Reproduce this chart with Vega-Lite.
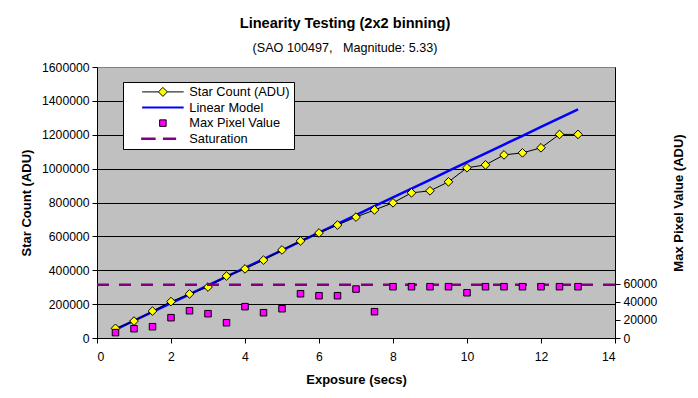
{
  "$schema": "https://vega.github.io/schema/vega-lite/v6.json",
  "width": 518,
  "height": 271,
  "autosize": {"type": "none"},
  "padding": {"left": 97, "top": 67, "right": 83, "bottom": 60},
  "background": "white",
  "title": {
    "text": "Linearity Testing (2x2 binning)",
    "subtitle": "(SAO 100497,\u00a0\u00a0 Magnitude: 5.33)",
    "anchor": "middle",
    "dx": -11,
    "offset": 6,
    "font": "Liberation Sans",
    "fontSize": 14.6,
    "fontWeight": "bold",
    "color": "black",
    "subtitleFont": "Liberation Sans",
    "subtitleFontSize": 12.6,
    "subtitleColor": "black",
    "subtitlePadding": 12
  },
  "config": {
    "view": {"fill": "#C0C0C0", "stroke": "#808080", "strokeWidth": 1},
    "axis": {
      "labelFont": "Liberation Sans",
      "labelFontSize": 12.2,
      "labelColor": "black",
      "labelOverlap": false,
      "titleFont": "Liberation Sans",
      "titleFontSize": 13,
      "titleFontWeight": "bold",
      "titleColor": "black",
      "domainColor": "black",
      "tickColor": "black",
      "tickSize": 5
    },
    "legend": {
      "orient": "none",
      "legendX": 26,
      "legendY": 15,
      "fillColor": "white",
      "strokeColor": "black",
      "padding": 3.5,
      "rowPadding": 1.6,
      "symbolOffset": 30,
      "labelOffset": 20,
      "symbolSize": 25,
      "labelFont": "Liberation Sans",
      "labelFontSize": 12.8,
      "labelColor": "black",
      "symbolOpacity": 1
    }
  },
  "data": {
    "values": [
      {"exposure": 0.5, "star": 57000, "model": 50000, "maxpix": 6000},
      {"exposure": 1, "star": 100000, "model": 102000, "maxpix": 10300},
      {"exposure": 1.5, "star": 159000, "model": 154000, "maxpix": 12500},
      {"exposure": 2, "star": 215000, "model": 206000, "maxpix": 22500},
      {"exposure": 2.5, "star": 260000, "model": 258000, "maxpix": 30200},
      {"exposure": 3, "star": 301000, "model": 310000, "maxpix": 26900},
      {"exposure": 3.5, "star": 366000, "model": 362000, "maxpix": 16900},
      {"exposure": 4, "star": 408000, "model": 414000, "maxpix": 34700},
      {"exposure": 4.5, "star": 460000, "model": 466000, "maxpix": 28000},
      {"exposure": 5, "star": 520000, "model": 518000, "maxpix": 32400},
      {"exposure": 5.5, "star": 573000, "model": 570000, "maxpix": 49000},
      {"exposure": 6, "star": 620000, "model": 622000, "maxpix": 46800},
      {"exposure": 6.5, "star": 667000, "model": 674000, "maxpix": 46800},
      {"exposure": 7, "star": 714000, "model": 726000, "maxpix": 54200},
      {"exposure": 7.5, "star": 756000, "model": 778000, "maxpix": 29100},
      {"exposure": 8, "star": 798000, "model": 830000, "maxpix": 56800},
      {"exposure": 8.5, "star": 857000, "model": 882000, "maxpix": 56800},
      {"exposure": 9, "star": 869000, "model": 934000, "maxpix": 56800},
      {"exposure": 9.5, "star": 922000, "model": 986000, "maxpix": 56800},
      {"exposure": 10, "star": 1005000, "model": 1038000, "maxpix": 50100},
      {"exposure": 10.5, "star": 1022000, "model": 1090000, "maxpix": 56800},
      {"exposure": 11, "star": 1081000, "model": 1142000, "maxpix": 56800},
      {"exposure": 11.5, "star": 1093000, "model": 1194000, "maxpix": 56800},
      {"exposure": 12, "star": 1123000, "model": 1246000, "maxpix": 56800},
      {"exposure": 12.5, "star": 1202000, "model": 1298000, "maxpix": 56800},
      {"exposure": 13, "star": 1202000, "model": 1350000, "maxpix": 56800}
    ]
  },
  "layer": [
    {
      "encoding": {
        "x": {
          "field": "exposure",
          "type": "quantitative",
          "scale": {"domain": [0, 14], "nice": false},
          "axis": {
            "values": [0, 2, 4, 6, 8, 10, 12, 14],
            "grid": false,
            "title": "Exposure (secs)",
            "labelPadding": 7,
            "titlePadding": 11
          }
        }
      },
      "layer": [
        {
          "mark": {"type": "line", "color": "#0000FF", "strokeWidth": 2.5},
          "encoding": {
            "y": {
              "field": "model",
              "type": "quantitative",
              "scale": {"domain": [0, 1600000], "nice": false},
              "axis": {
                "values": [0, 200000, 400000, 600000, 800000, 1000000, 1200000, 1400000, 1600000],
                "format": "d",
                "title": "Star Count (ADU)",
                "grid": true,
                "gridColor": {"condition": {"test": "datum.value >= 1600000", "value": "#808080"}, "value": "black"},
                "gridOpacity": 1,
                "labelPadding": 3,
                "labelOverlap": false,
                "titlePadding": 8
              }
            }
          }
        },
        {
          "mark": {"type": "line", "color": "black", "strokeWidth": 1},
          "encoding": {
            "y": {
              "field": "star",
              "type": "quantitative",
              "scale": {"domain": [0, 1600000], "nice": false},
              "axis": {
                "values": [0, 200000, 400000, 600000, 800000, 1000000, 1200000, 1400000, 1600000],
                "format": "d",
                "title": "Star Count (ADU)",
                "grid": true,
                "gridColor": {"condition": {"test": "datum.value >= 1600000", "value": "#808080"}, "value": "black"},
                "gridOpacity": 1,
                "labelPadding": 3,
                "labelOverlap": false,
                "titlePadding": 8
              }
            }
          }
        },
        {
          "mark": {"type": "point", "shape": "diamond", "filled": true, "fill": "#FFFF00", "stroke": "black", "strokeWidth": 1, "size": 75, "opacity": 1},
          "encoding": {
            "y": {
              "field": "star",
              "type": "quantitative",
              "scale": {"domain": [0, 1600000], "nice": false},
              "axis": {
                "values": [0, 200000, 400000, 600000, 800000, 1000000, 1200000, 1400000, 1600000],
                "format": "d",
                "title": "Star Count (ADU)",
                "grid": true,
                "gridColor": {"condition": {"test": "datum.value >= 1600000", "value": "#808080"}, "value": "black"},
                "gridOpacity": 1,
                "labelPadding": 3,
                "labelOverlap": false,
                "titlePadding": 8
              }
            }
          }
        }
      ]
    },
    {
      "layer": [
        {
          "data": {"values": [{"saturation": 59000}]},
          "mark": {"type": "rule", "color": "#800080", "strokeWidth": 2.5, "strokeDash": [12, 10]},
          "encoding": {
            "y": {
              "field": "saturation",
              "type": "quantitative",
              "scale": {"domain": [0, 300000], "nice": false},
              "axis": {
                "orient": "right",
                "values": [0, 20000, 40000, 60000],
                "format": "d",
                "title": "Max Pixel Value (ADU)",
                "titleAngle": -90,
                "grid": false,
                "labelPadding": 3,
                "titlePadding": 29
              }
            }
          }
        },
        {
          "mark": {"type": "point", "filled": true, "size": 25, "opacity": 1},
          "encoding": {
            "x": {"field": "exposure", "type": "quantitative", "scale": {"domain": [0, 14], "nice": false}},
            "y": {"field": "maxpix", "type": "quantitative"},
            "fill": {
              "datum": "Max Pixel Value",
              "type": "nominal",
              "scale": {"domain": ["Star Count (ADU)", "Linear Model", "Max Pixel Value", "Saturation"], "range": ["#FFFF00", "transparent", "#FF00FF", "transparent"]},
              "legend": {"title": null, "labelExpr": "datum.label + '\u00a0\u00a0\u00a0'"}
            },
            "stroke": {
              "datum": "Max Pixel Value",
              "type": "nominal",
              "scale": {"domain": ["Star Count (ADU)", "Linear Model", "Max Pixel Value", "Saturation"], "range": ["#000000", "#0000FF", "#000000", "#800080"]},
              "legend": {"title": null, "labelExpr": "datum.label + '\u00a0\u00a0\u00a0'"}
            },
            "shape": {
              "datum": "Max Pixel Value",
              "type": "nominal",
              "scale": {"domain": ["Star Count (ADU)", "Linear Model", "Max Pixel Value", "Saturation"], "range": ["M-8.3,0H-1.8M1.8,0H8.3M0,-1.8L1.8,0L0,1.8L-1.8,0Z", "M-8.3,0H8.3", "M-1.3,-1.3H1.3V1.3H-1.3Z", "M-8.7,0H-2.9M0,0H5.3"]},
              "legend": {"title": null, "labelExpr": "datum.label + '\u00a0\u00a0\u00a0'"}
            },
            "strokeWidth": {
              "datum": "Max Pixel Value",
              "type": "nominal",
              "scale": {"type": "ordinal", "domain": ["Star Count (ADU)", "Linear Model", "Max Pixel Value", "Saturation"], "range": [1, 2, 1, 2.5]},
              "legend": {"title": null, "labelExpr": "datum.label + '\u00a0\u00a0\u00a0'"}
            }
          }
        }
      ]
    }
  ],
  "resolve": {"scale": {"y": "independent"}}
}
